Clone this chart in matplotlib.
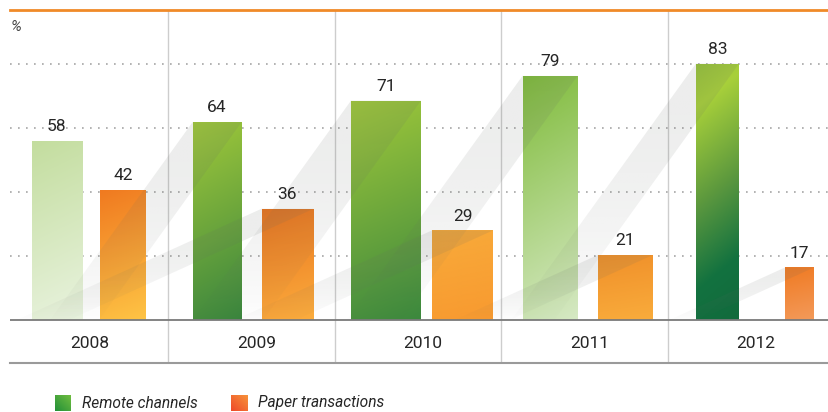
import numpy as np
import matplotlib.pyplot as plt
from matplotlib.colors import LinearSegmentedColormap
from matplotlib.patches import Polygon

plt.rcParams['font.family'] = ['Roboto', 'DejaVu Sans']

# data
years = ['2008', '2009', '2010', '2011', '2012']
remote = [58, 64, 71, 79, 83]
paper = [42, 36, 29, 21, 17]

# bar layout in pixels: offset of bar centre from the year centre, and width
remote_off = [-33, -39.5, -37, -39.5, -38.5]
remote_w = [50, 49, 70, 55, 43]
paper_off = [33, 31, 39.5, 35.5, 43.5]
paper_w = [46, 52, 61, 55, 29]

# gradient colours (top -> bottom)
remote_cols = [
    (['#c3dd9e', '#e9f3df'], None),
    (['#a0c83a', '#3a853e'], None),
    (['#a0c83a', '#3c883e'], None),
    (['#7fbb3a', '#d6e9c4'], None),
    (['#96c13a', '#a8d03a', '#5a973e', '#137240', '#116a3c'], [0, 0.15, 0.5, 0.78, 1]),
]
paper_cols = [
    (['#f07a20', '#fec445'], None),
    (['#e9731e', '#fbad3e'], None),
    (['#f8aa3a', '#f89a30'], None),
    (['#f0902a', '#f9ac3c'], None),
    (['#f07a22', '#f39a5a'], None),
]

# pixel geometry of the plot
ppu_y = 3.09        # pixels per percent
cat_px0, cat_step = 90, 166.5
base_px = 320

fig = plt.figure(figsize=(8.29, 4.12), dpi=100)
ax = fig.add_axes([10 / 829, 49 / 412, 819 / 829, 353 / 412])
xlim = ((10 - cat_px0) / cat_step, (829 - cat_px0) / cat_step)
ylim = ((base_px - 363) / ppu_y, (base_px - 10) / ppu_y)

x = np.arange(len(years))


def grad_fill(bar, cols, stops):
    if stops is None:
        cmap = LinearSegmentedColormap.from_list('g', cols)
    else:
        cmap = LinearSegmentedColormap.from_list('g', list(zip(stops, cols)))
    yy, xx = np.mgrid[0:1:200j, 0:1:60j]
    t = np.clip(0.88 * yy + 0.12 * xx, 0, 1)
    x0, y0 = bar.get_xy()
    im = ax.imshow(cmap(t), extent=[x0, x0 + bar.get_width(), y0, y0 + bar.get_height()],
                   aspect='auto', origin='upper', zorder=2, interpolation='bilinear')
    im.set_clip_path(bar)


def shadow_band(bar, slope_px):
    # light grey ribbon running down-left from the top edge of a bar
    x0 = bar.get_x()
    w = bar.get_width()
    top = bar.get_height()
    dx = -slope_px * top * ppu_y / cat_step
    patch = Polygon([(x0, top), (x0 + w, top), (x0 + w + dx, 0), (x0 + dx, 0)],
                    closed=True, facecolor='none', edgecolor='none')
    ax.add_patch(patch)
    t = np.linspace(0, 1, 150)
    arr = np.zeros((150, 1, 4))
    arr[..., 0] = 0.40
    arr[..., 1] = 0.42
    arr[..., 2] = 0.40
    arr[:, 0, 3] = 0.11 * (1 - t ** 2) + 0.012
    im = ax.imshow(arr, extent=[x0 + dx, x0 + w, 0, top], aspect='auto',
                   origin='upper', zorder=3, interpolation='bilinear')
    im.set_clip_path(patch)


bars_r = ax.bar(x + np.array(remote_off) / cat_step, remote,
                width=np.array(remote_w) / cat_step, color='none', edgecolor='none', zorder=2)
bars_p = ax.bar(x + np.array(paper_off) / cat_step, paper,
                width=np.array(paper_w) / cat_step, color='none', edgecolor='none', zorder=2)

for b, (c, s) in zip(bars_r, remote_cols):
    grad_fill(b, c, s)
for b, (c, s) in zip(bars_p, paper_cols):
    grad_fill(b, c, s)

for b in bars_r[1:]:
    shadow_band(b, 0.72)
for b in bars_p[1:]:
    shadow_band(b, 2.2)

# value labels
for bars, vals in [(bars_r, remote), (bars_p, paper)]:
    for b, v in zip(bars, vals):
        ax.text(b.get_x() + b.get_width() / 2, v + 2.2, str(v), ha='center', va='bottom',
                fontsize=12.5, color='#262626', zorder=5)

# dotted grid
for k in range(1, 5):
    ax.axhline(k * 20.7, color='#a5a5a5', lw=1.2, linestyle=(0, (1, 3.8)), zorder=1)

# separators and baseline
for i in x[:-1]:
    ax.axvline(i + 0.47, color='#cdcdcd', lw=1, zorder=0)
ax.axhline(0, color='#7a7a7a', lw=1.3, zorder=4)

for i, yr in zip(x, years):
    ax.text(i, -7.6, yr, ha='center', va='center', fontsize=12.5, color='#262626')

ax.set_xlim(xlim)
ax.set_ylim(ylim)
ax.set_xticks([])
ax.set_yticks([])
for s in ['left', 'right']:
    ax.spines[s].set_visible(False)
ax.spines['top'].set_color('#f08a28')
ax.spines['top'].set_linewidth(2)
ax.spines['bottom'].set_color('#9a9a9a')
ax.spines['bottom'].set_linewidth(1.5)

fig.text(11 / 829, 1 - 27 / 412, '%', va='center', style='italic', fontsize=11, color='#444444')

# legend
leg_items = [('Remote channels', ['#239038', '#6fbd40'], 55, 82),
             ('Paper transactions', ['#ee4a2a', '#f7923a'], 231, 258)]
for label, cols, sq_x, tx_x in leg_items:
    lax = fig.add_axes([sq_x / 829, 1 / 412, 16 / 829, 16 / 412])
    cmap = LinearSegmentedColormap.from_list('l', cols)
    yy, xx = np.mgrid[0:1:40j, 0:1:40j]
    lax.imshow(cmap((xx + yy) / 2), origin='lower', aspect='auto', extent=[0, 1, 0, 1])
    lax.axis('off')
    fig.text(tx_x / 829, 1 - 403 / 412, label, va='center', style='italic',
             fontsize=11.2, color='#262626')

fig.savefig('out.png', dpi=100)
